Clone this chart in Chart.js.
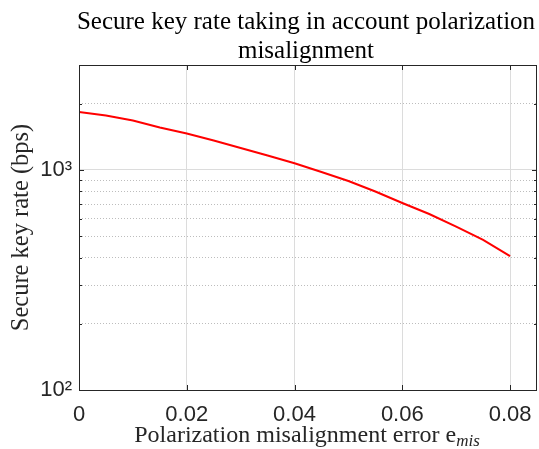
<!DOCTYPE html>
<html><head><meta charset="utf-8">
<script src="https://cdn.jsdelivr.net/npm/chart.js@4"></script>
<style>html,body{margin:0;padding:0;background:#fff}#wrap{width:539px;height:449px;position:relative}</style>
</head><body><div id="wrap"><canvas id="c" width="539" height="449"></canvas></div>
<script>
// ---- data ----
const errorRates = [0, 0.005, 0.01, 0.015, 0.02, 0.025, 0.03, 0.035, 0.04, 0.045, 0.05, 0.055, 0.06, 0.065, 0.07, 0.075, 0.08];
const keyRates = [1834, 1769, 1679, 1560, 1465, 1362, 1259, 1164, 1073, 979, 891, 798, 708, 631, 553, 481, 406];
const xTickValues = [0, 0.02, 0.04, 0.06, 0.08];
const yTickValues = [100, 200, 300, 400, 500, 600, 700, 800, 900, 1000, 2000, 3000];
const yMajorLabels = {100: '10²', 1000: '10³'};
const titleLines = ['Secure key rate taking in account polarization', 'misalignment'];
const xLabelMain = 'Polarization misalignment error e';
const xLabelSub = 'mis';
const yLabel = 'Secure key rate (bps)';

const AXIS = '#262626';
const SERIF = '"Liberation Serif", "Times New Roman", serif';
const SANS = '"Liberation Sans", Arial, sans-serif';
const isMajor = v => v === 100 || v === 1000;

const textPlugin = {
  id: 'texts',
  afterDraw(chart) {
    const ctx = chart.ctx, a = chart.chartArea;
    const cx = (a.left + a.right) / 2;
    ctx.save();
    // box
    ctx.strokeStyle = AXIS; ctx.lineWidth = 1; ctx.setLineDash([]);
    ctx.strokeRect(Math.round(a.left) + 0.5, Math.round(a.top) + 0.5, Math.round(a.right - a.left) - 1, Math.round(a.bottom - a.top));
    // inward ticks
    const xs = chart.scales.x, ys = chart.scales.y;
    ctx.beginPath();
    xTickValues.forEach(v => {
      const px = Math.round(xs.getPixelForValue(v)) + 0.5;
      ctx.moveTo(px, a.bottom); ctx.lineTo(px, a.bottom - 5);
      ctx.moveTo(px, a.top); ctx.lineTo(px, a.top + 5);
    });
    yTickValues.forEach(v => {
      const py = Math.round(ys.getPixelForValue(v)) + 0.5;
      const L = isMajor(v) ? 5 : 3;
      ctx.moveTo(a.left, py); ctx.lineTo(a.left + L, py);
      ctx.moveTo(a.right, py); ctx.lineTo(a.right - L, py);
    });
    ctx.stroke();
    // title
    ctx.fillStyle = '#000';
    ctx.font = '25px ' + SERIF;
    ctx.textAlign = 'center'; ctx.textBaseline = 'alphabetic';
    ctx.fillText(titleLines[0], cx - 2, 29);
    ctx.fillText(titleLines[1], cx - 2, 58);
    // x label
    ctx.fillStyle = AXIS;
    ctx.font = '24px ' + SERIF;
    const w1 = ctx.measureText(xLabelMain).width;
    ctx.font = 'italic 17px ' + SERIF;
    const w2 = ctx.measureText(xLabelSub).width;
    const x0 = cx - 1 - (w1 + w2) / 2;
    ctx.textAlign = 'left';
    ctx.font = '24px ' + SERIF;
    ctx.fillText(xLabelMain, x0, 442);
    ctx.font = 'italic 17px ' + SERIF;
    ctx.fillText(xLabelSub, x0 + w1, 446);
    // y label
    ctx.font = '24.5px ' + SERIF;
    ctx.translate(28, (a.top + a.bottom) / 2);
    ctx.rotate(-Math.PI / 2);
    ctx.textAlign = 'center'; ctx.textBaseline = 'alphabetic';
    ctx.fillText(yLabel, 0, 0);
    ctx.restore();
  }
};

new Chart(document.getElementById('c'), {
  type: 'line',
  data: {
    datasets: [{
      data: errorRates.map((x, i) => ({x, y: keyRates[i]})),
      borderColor: '#ff0000',
      borderWidth: 2,
      pointRadius: 0,
      tension: 0,
      fill: false
    }]
  },
  options: {
    responsive: false,
    animation: false,
    devicePixelRatio: 1,
    layout: {padding: {top: 65, right: 2, left: 0, bottom: 0}},
    plugins: {legend: {display: false}, tooltip: {enabled: false}, title: {display: false}},
    scales: {
      x: {
        type: 'linear', min: 0, max: 0.085,
        afterBuildTicks: s => { s.ticks = xTickValues.map(v => ({value: v})); },
        afterFit: s => { s.height = 59; s.paddingLeft = 0; s.paddingRight = 0; },
        ticks: {
          callback: v => v === 0 ? '0' : v.toFixed(2),
          font: {family: SANS, size: 22},
          color: AXIS, padding: 12, maxRotation: 0, autoSkip: false
        },
        grid: {color: '#dcdcdc', lineWidth: 1, drawTicks: false},
        border: {display: false}
      },
      y: {
        type: 'logarithmic', min: 100, max: 3000,
        afterBuildTicks: s => { s.ticks = yTickValues.map(v => ({value: v, major: isMajor(v)})); },
        afterFit: s => { s.width = 79; s.paddingTop = 0; s.paddingBottom = 0; },
        ticks: {
          callback: v => yMajorLabels[v] || '',
          font: {family: SANS, size: 22},
          color: AXIS, padding: 7, autoSkip: false
        },
        grid: {
          color: c => (c.tick && isMajor(c.tick.value)) ? '#dcdcdc' : '#bdbdbd',
          lineWidth: 1, drawTicks: false
        },
        border: {display: false, dash: c => (c.tick && !isMajor(c.tick.value)) ? [1, 2] : []}
      }
    }
  },
  plugins: [textPlugin]
});
</script>
</body></html>
